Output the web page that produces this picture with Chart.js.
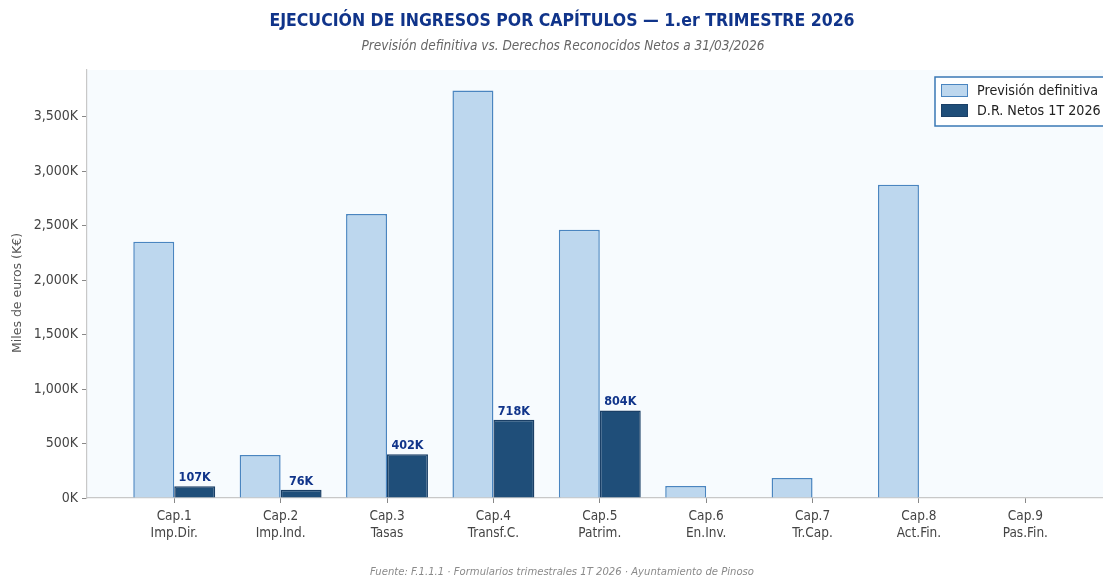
<!DOCTYPE html>
<html>
<head>
<meta charset="utf-8">
<script src="https://cdn.jsdelivr.net/npm/chart.js@4.4.1/dist/chart.umd.min.js"></script>
<style>
  html, body { margin: 0; padding: 0; background: #ffffff; }
  #wrap { width: 1103px; height: 577px; position: relative; }
</style>
</head>
<body>
<div id="wrap"><canvas id="chart"></canvas></div>
<script>
// --- data (miles de euros) ---
const capitulos = ['Cap.1', 'Cap.2', 'Cap.3', 'Cap.4', 'Cap.5', 'Cap.6', 'Cap.7', 'Cap.8', 'Cap.9'];
const nombres = ['Imp.Dir.', 'Imp.Ind.', 'Tasas', 'Transf.C.', 'Patrim.', 'En.Inv.', 'Tr.Cap.', 'Act.Fin.', 'Pas.Fin.'];
const prevision = [2353, 395, 2608, 3741, 2462, 110, 184, 2876, 0];
const drNetos = [107, 76, 402, 718, 804, 0, 0, 0, 0];
const yTicks = [0, 500, 1000, 1500, 2000, 2500, 3000, 3500];

const TITLE = 'EJECUCIÓN DE INGRESOS POR CAPÍTULOS — 1.er TRIMESTRE 2026';
const SUBTITLE = 'Previsión definitiva vs. Derechos Reconocidos Netos a 31/03/2026';
const FOOTER = 'Fuente: F.1.1.1 · Formularios trimestrales 1T 2026 · Ayuntamiento de Pinoso';
const Y_TITLE = 'Miles de euros (K€)';

const FONT = '"DejaVu Sans Condensed", "DejaVu Sans"';
const fmtK = (v) => v.toLocaleString('en-US') + 'K';

// background of the plot area + titles/footer
const decorPlugin = {
    id: 'decor',
    beforeDraw(chart) {
        const { ctx, chartArea: a } = chart;
        ctx.save();
        ctx.fillStyle = '#f7fbfe';
        ctx.fillRect(a.left, a.top, a.right - a.left, a.bottom - a.top);
        ctx.restore();
    },
    afterDraw(chart) {
        const { ctx } = chart;
        ctx.save();
        ctx.textAlign = 'center';
        ctx.textBaseline = 'middle';
        ctx.fillStyle = '#10348a';
        ctx.font = 'bold 17.5px ' + FONT;
        ctx.fillText(TITLE, 562, 21);
        ctx.fillStyle = '#666666';
        ctx.font = 'italic 13.5px ' + FONT;
        ctx.fillText(SUBTITLE, 563, 46);
        ctx.fillStyle = '#8a8a8a';
        ctx.font = 'italic 11.2px ' + FONT;
        ctx.fillText(FOOTER, 562, 572);
        // y axis title (sits a little below the plot's middle in the original)
        ctx.translate(18, 293);
        ctx.rotate(-Math.PI / 2);
        ctx.fillStyle = '#555555';
        ctx.font = '12.5px "DejaVu Sans"';
        ctx.fillText(Y_TITLE, 0, 0);
        ctx.restore();
    }
};

// value labels above D.R. bars
const valueLabels = {
    id: 'valueLabels',
    afterDatasetsDraw(chart) {
        const { ctx } = chart;
        const meta = chart.getDatasetMeta(1);
        ctx.save();
        ctx.font = 'bold 12.5px ' + FONT;
        ctx.fillStyle = '#10348a';
        ctx.textAlign = 'center';
        ctx.textBaseline = 'bottom';
        meta.data.forEach((bar, i) => {
            if (drNetos[i] > 0) ctx.fillText(fmtK(drNetos[i]), bar.x, bar.y - 2);
        });
        ctx.restore();
    }
};

// legend box inside the plot (upper right)
const boxLegend = {
    id: 'boxLegend',
    afterDraw(chart) {
        const { ctx } = chart;
        const x = 935, y = 77;
        ctx.save();
        ctx.fillStyle = '#ffffff';
        ctx.strokeStyle = '#3a78b5';
        ctx.lineWidth = 1.5;
        ctx.fillRect(x, y, 190, 49);
        ctx.strokeRect(x, y, 190, 49);
        chart.data.datasets.forEach((ds, i) => {
            const sy = y + 7 + i * 20;
            ctx.fillStyle = ds.backgroundColor;
            ctx.strokeStyle = ds.borderColor;
            ctx.lineWidth = 1;
            ctx.fillRect(x + 6, sy, 27, 13);
            ctx.strokeRect(x + 6.5, sy + 0.5, 26, 12);
            ctx.fillStyle = '#222222';
            ctx.font = '14.2px ' + FONT;
            ctx.textBaseline = 'middle';
            ctx.fillText(ds.label, x + 42, sy + 7);
        });
        ctx.restore();
    }
};

const ctx = document.getElementById('chart').getContext('2d');
new Chart(ctx, {
    type: 'bar',
    data: {
        datasets: [
            {
                label: 'Previsión definitiva',
                data: prevision.map((v, i) => ({ x: i, y: v })),
                backgroundColor: '#bdd7ee',
                borderColor: '#4a85c0',
                borderWidth: 1.5
            },
            {
                label: 'D.R. Netos 1T 2026',
                data: drNetos.map((v, i) => ({ x: i, y: v })),
                backgroundColor: '#1f4e79',
                borderColor: '#1a3f66',
                borderWidth: 1.5
            }
        ]
    },
    options: {
        responsive: true,
        maintainAspectRatio: false,
        animation: false,
        categoryPercentage: 0.77,
        barPercentage: 1.0,
        layout: { padding: { top: 70, right: 0, bottom: 26, left: 0 } },
        plugins: {
            legend: { display: false },
            tooltip: { enabled: false }
        },
        scales: {
            x: {
                type: 'linear',
                min: -0.82,
                max: 8.73,
                offset: false,
                afterBuildTicks: (scale) => { scale.ticks = capitulos.map((_, i) => ({ value: i })); },
                afterFit: (scale) => { scale.height = 53; },
                ticks: {
                    color: '#444444',
                    font: { family: FONT, size: 13.5, lineHeight: 1.25 },
                    padding: 5,
                    maxRotation: 0,
                    autoSkip: false,
                    callback: (v) => capitulos[v] ? [capitulos[v], nombres[v]] : ''
                },
                grid: { offset: false, drawOnChartArea: false, drawTicks: true, tickLength: 5, color: '#888888' },
                border: { color: '#c8c8c8', width: 1.2 }
            },
            y: {
                min: 0,
                max: 3930,
                afterBuildTicks: (scale) => { scale.ticks = yTicks.map(v => ({ value: v })); },
                afterFit: (scale) => { scale.width = 87; },
                ticks: {
                    color: '#444444',
                    font: { family: FONT, size: 14 },
                    padding: 4,
                    callback: (v) => fmtK(v)
                },
                grid: { drawOnChartArea: false, drawTicks: true, tickLength: 5, color: '#888888' },
                border: { color: '#c8c8c8', width: 1.2 }
            }
        }
    },
    plugins: [decorPlugin, valueLabels, boxLegend]
});
</script>
</body>
</html>
